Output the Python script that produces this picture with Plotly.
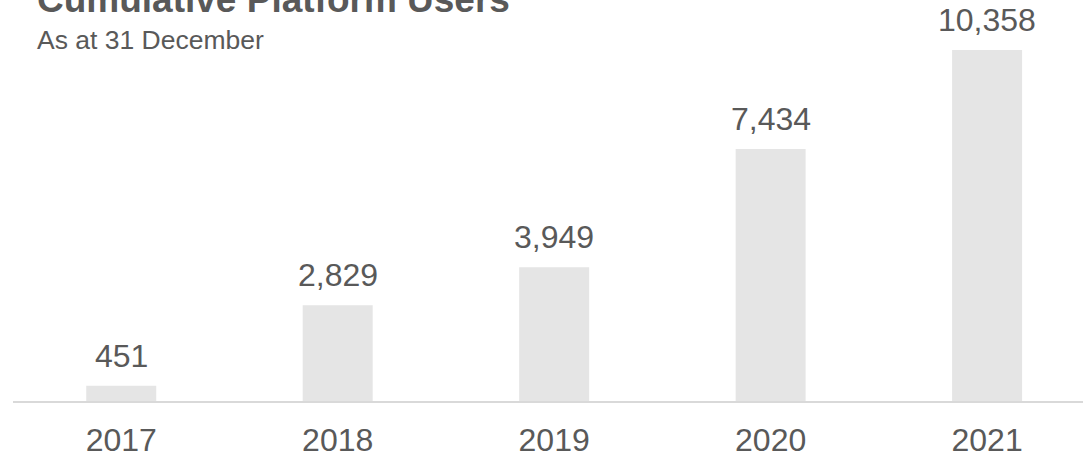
import plotly.graph_objects as go

# Cumulative platform users, as at 31 December of each year
years = ["2017", "2018", "2019", "2020", "2021"]
users = [451, 2829, 3949, 7434, 10358]

FONT = "Liberation Sans, Arial, sans-serif"
TEXT = "#595959"
BAR = "#e5e5e5"

fig = go.Figure(
    go.Bar(
        x=years,
        y=users,
        marker=dict(color=BAR, line=dict(width=0)),
        width=70 / 216.5,
        hoverinfo="skip",
    )
)

# value labels above each bar (x given as category index)
for i, v in enumerate(users):
    fig.add_annotation(
        x=i, y=v, xref="x", yref="y",
        text=f"{v:,}",
        showarrow=False,
        xanchor="center", yanchor="bottom",
        yshift=10,
        font=dict(family=FONT, size=32, color=TEXT),
    )

# title and subtitle
fig.add_annotation(
    x=0.0205, y=1.08, xref="paper", yref="paper",
    text="<b>Cumulative Platform Users</b>",
    showarrow=False, xanchor="left", yanchor="bottom",
    font=dict(family=FONT, size=37, color=TEXT),
)
fig.add_annotation(
    x=0.0205, y=0.979, xref="paper", yref="paper",
    text="As at 31 December",
    showarrow=False, xanchor="left", yanchor="bottom",
    font=dict(family=FONT, size=26.5, color=TEXT),
)

fig.update_layout(
    width=1084,
    height=458,
    margin=dict(l=13, r=1, t=50, b=57),
    paper_bgcolor="white",
    plot_bgcolor="white",
    showlegend=False,
    xaxis=dict(
        type="category",
        range=[-0.5, 4.443],
        showline=True,
        linecolor="#d9d9d9",
        linewidth=2,
        ticks="",
        showgrid=False,
        zeroline=False,
        tickfont=dict(family=FONT, size=32, color=TEXT),
        ticklabelstandoff=10,
    ),
    yaxis=dict(
        range=[0, 10358],
        visible=False,
        showgrid=False,
        zeroline=False,
    ),
)

fig.write_html("out.html")
